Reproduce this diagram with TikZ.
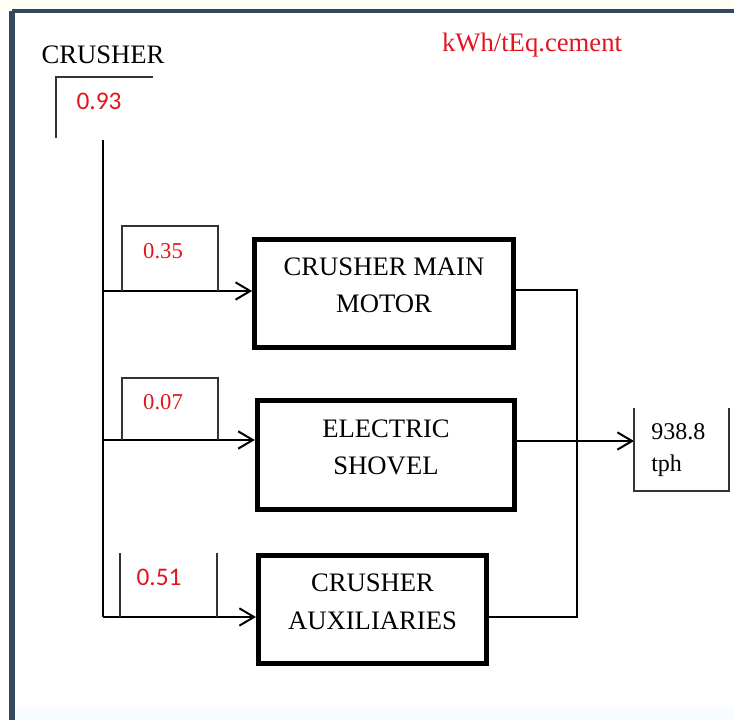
\documentclass[tikz,border=0pt]{standalone}
\usepackage{fontspec}
\setmainfont{Liberation Serif}
\newfontfamily\numfont{Carlito}
\usetikzlibrary{arrows.meta}
\definecolor{framec}{RGB}{52,72,96}
\definecolor{valred}{RGB}{226,20,30}

\begin{document}
\begin{tikzpicture}[x=0.75pt, y=-0.75pt, >={Straight Barb[length=11pt, width=13pt, line width=1.5pt]},
  blk/.style={draw, line width=3.75pt, inner sep=0pt, align=center, text depth=12pt,
    font=\fontsize{20}{28}\selectfont},
  wire/.style={line width=1.5pt},
  thin/.style={line width=0.8pt, draw=black!80},
  val/.style={text=valred, font=\fontsize{17}{20}\selectfont},
  sval/.style={text=valred, font=\numfont\fontsize{19}{22}\selectfont}]
  \useasboundingbox (0,0) rectangle (734,720);
  \fill[yellow!4] (0,0) rectangle (734,9);
  \fill[cyan!3] (16,707) rectangle (734,720);
  % frame
  \draw[framec, line width=3.5pt] (12,11) -- (734,11);
  \draw[framec, line width=4.5pt] (12,11) -- (12,720);

  \node[font=\fontsize{20}{24}\selectfont] (src) at (103,55) {CRUSHER};
  \node[text=valred, font=\fontsize{20}{24}\selectfont] (unit) at (532,45) {kWh/tEq.cement};
  \node[sval] (v0) at (99,101) {0.93};
  \draw[thin] (56,138) -- (56,77) -- (153,77);

  \node[blk, minimum width=194pt, minimum height=81pt] (m1) at (384,293.5) {CRUSHER MAIN\\MOTOR};
  \node[blk, minimum width=193pt, minimum height=82pt] (m2) at (386,455) {ELECTRIC\\SHOVEL};
  \node[blk, minimum width=171pt, minimum height=81pt] (m3) at (372.5,609.5) {CRUSHER\\AUXILIARIES};

  \coordinate (top) at (103,140);
  \coordinate (j1) at (103,291);
  \coordinate (j2) at (103,440);
  \coordinate (j3) at (103,617);
  \draw[wire] (top) -- (j3);
  \draw[wire, ->] (j1) -- (j1 -| m1.west);
  \draw[wire, ->] (j2) -- (j2 -| m2.west);
  \draw[wire, ->] (j3) -- (j3 -| m3.west);

  % values on the branches
  \node[val] (v1) at (163,251) {0.35};
  \node[val] (v2) at (163,402) {0.07};
  \node[sval] (v3) at (159,577) {0.51};
  \draw[thin] (122,291) -- (122,226) -- (218,226) -- (218,291);
  \draw[thin] (122,440) -- (122,378) -- (218,378) -- (218,440);
  \draw[thin] (120,617) -- (120,553);
  \draw[thin] (217,617) -- (217,553);

  % output side
  \coordinate (c1) at (577,290);
  \coordinate (c3) at (577,617);
  \coordinate (o2) at (517,441);
  \node[anchor=west, align=left, inner sep=0pt, font=\fontsize{18}{24}\selectfont] (out) at (651,450) {938.8\\tph};
  \coordinate (obox) at (634,441);
  \draw[wire] (m1.east |- c1) -- (c1) -- (c3) -- (m3.east |- c3);
  \draw[wire, ->] (o2) -- (obox);
  \draw[thin] (634,408) -- (634,491) -- (729,491) -- (729,408);
\end{tikzpicture}
\end{document}
